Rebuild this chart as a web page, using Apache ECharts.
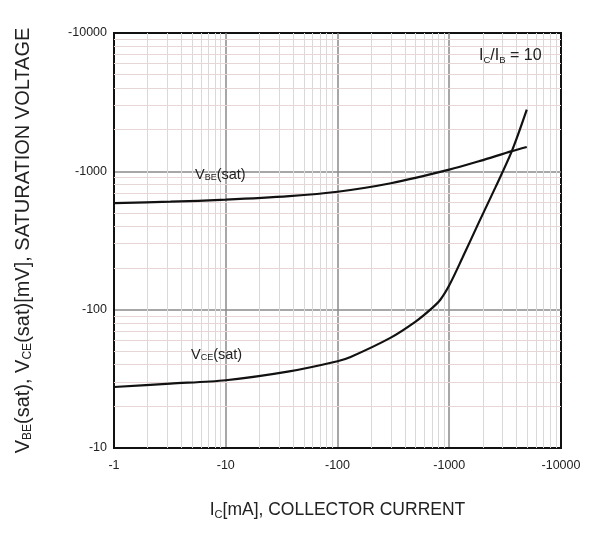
<!DOCTYPE html>
<html>
<head>
<meta charset="utf-8">
<script src="https://cdn.jsdelivr.net/npm/echarts@6/dist/echarts.min.js"></script>
<style>html,body{margin:0;padding:0;background:#fff}#c{width:589px;height:534px}</style>
</head>
<body>
<div id="c"></div>
<script>
// Collector current (mA) and saturation voltages (mV, magnitudes)
const vbeIc = [1, 3.2, 10, 37, 100, 300, 1000, 1890, 3630, 4940];
const vbeV  = [590, 603, 624, 662, 712, 820, 1028, 1190, 1400, 1500];
const vceIc = [1, 3.2, 10, 37, 100, 131, 297, 500, 677, 832, 1000, 1306, 1832, 2576, 3630, 4940];
const vceV  = [27.6, 29.2, 30.9, 35.8, 42.4, 45.5, 62.5, 82, 100, 118, 150, 235, 424, 759, 1400, 2794];
const xTickLabels = ['-1', '-10', '-100', '-1000', '-10000'];
const yTickLabels = ['-10', '-100', '-1000', '-10000'];
const xDecades = [1, 10, 100, 1000];
const yDecades = [10, 100, 1000];
const minorMult = [2, 3, 4, 5, 6, 7, 8, 9];

const xMinor = [];
xDecades.forEach(d => minorMult.forEach(m => xMinor.push(d * m)));
const yMinor = [];
yDecades.forEach(d => minorMult.forEach(m => yMinor.push(d * m)));

const FONT = '"Liberation Sans", Arial, sans-serif';
const chart = echarts.init(document.getElementById('c'), null, {renderer: 'canvas'});

function labelFromValue(list, decadesStart) {
  return function (v) {
    const i = Math.round(Math.log10(v)) - decadesStart;
    return list[i] !== undefined ? list[i] : '';
  };
}

const option = {
  backgroundColor: '#fff',
  animation: false,
  grid: {left: 114, right: 28, top: 33, bottom: 86, show: true, borderColor: '#111', borderWidth: 2, backgroundColor: 'transparent'},
  xAxis: {
    type: 'log', logBase: 10, min: 1, max: 10000,
    name: '{m|I}{s|C}{m|[mA], COLLECTOR CURRENT}',
    nameLocation: 'middle', nameGap: 52,
    nameTextStyle: {rich: {
      m: {fontFamily: FONT, fontSize: 17.5, color: '#222'},
      s: {fontFamily: FONT, fontSize: 11, color: '#222', verticalAlign: 'bottom', padding: [9, 0, 0, 0]}
    }},
    axisLine: {show: true, lineStyle: {color: '#111', width: 2}},
    axisTick: {show: false},
    axisLabel: {fontFamily: FONT, fontSize: 12.5, color: '#222', margin: 11, formatter: labelFromValue(xTickLabels, 0)},
    splitLine: {show: true, showMinLine: false, showMaxLine: false, lineStyle: {color: '#8a8a8a', width: 1.5}},
    minorTick: {show: false}
  },
  yAxis: {
    type: 'log', logBase: 10, min: 10, max: 10000,
    name: '{m|V}{s|BE}{m|(sat), V}{s|CE}{m|(sat)[mV], SATURATION VOLTAGE}',
    nameLocation: 'middle', nameGap: 80, nameRotate: 90,
    nameTextStyle: {rich: {
      m: {fontFamily: FONT, fontSize: 20, color: '#222'},
      s: {fontFamily: FONT, fontSize: 12, color: '#222', verticalAlign: 'bottom', padding: [10, 0, 0, 0]}
    }},
    axisLine: {show: true, lineStyle: {color: '#111', width: 2}},
    axisTick: {show: false},
    axisLabel: {fontFamily: FONT, fontSize: 12.5, color: '#222', margin: 7, formatter: labelFromValue(yTickLabels, 1)},
    splitLine: {show: true, showMinLine: false, showMaxLine: false, lineStyle: {color: '#8a8a8a', width: 1.5}}
  },
  series: [
    {
      type: 'line', data: [], z: 1, silent: true,
      markLine: {
        silent: true, symbol: 'none', label: {show: false}, animation: false,
        lineStyle: {type: 'solid', width: 1},
        data: xMinor.map(v => ({xAxis: v, lineStyle: {color: '#d9d9d9', type: 'solid', width: 1}}))
          .concat(yMinor.map(v => ({yAxis: v, lineStyle: {color: '#e6d6d6', type: 'solid', width: 1}})))
      }
    },
    {
      name: 'VBE(sat)', type: 'line', z: 5, smooth: 0.3, showSymbol: false,
      lineStyle: {color: '#111', width: 2.2},
      data: vbeIc.map((x, i) => [x, vbeV[i]])
    },
    {
      name: 'VCE(sat)', type: 'line', z: 5, smooth: 0.3, showSymbol: false,
      lineStyle: {color: '#111', width: 2.2},
      data: vceIc.map((x, i) => [x, vceV[i]])
    }
  ],
  graphic: [
    {type: 'text', left: 195, top: 167, z: 10, style: {
      text: '{m|V}{s|BE}{m|(sat)}',
      rich: {m: {fontFamily: FONT, fontSize: 14.5, fill: '#222'}, s: {fontFamily: FONT, fontSize: 9, fill: '#222', verticalAlign: 'bottom', padding: [7, 0, 0, 0]}}
    }},
    {type: 'text', left: 191, top: 347, z: 10, style: {
      text: '{m|V}{s|CE}{m|(sat)}',
      rich: {m: {fontFamily: FONT, fontSize: 14.5, fill: '#222'}, s: {fontFamily: FONT, fontSize: 9, fill: '#222', verticalAlign: 'bottom', padding: [7, 0, 0, 0]}}
    }},
    {type: 'text', left: 479, top: 48, z: 10, style: {
      text: '{m|I}{s|C}{m|/I}{s|B}{m| = 10}',
      rich: {m: {fontFamily: FONT, fontSize: 16, fill: '#222'}, s: {fontFamily: FONT, fontSize: 9.5, fill: '#222', verticalAlign: 'bottom', padding: [8, 0, 0, 0]}}
    }}
  ]
};
chart.setOption(option);
</script>
</body>
</html>
